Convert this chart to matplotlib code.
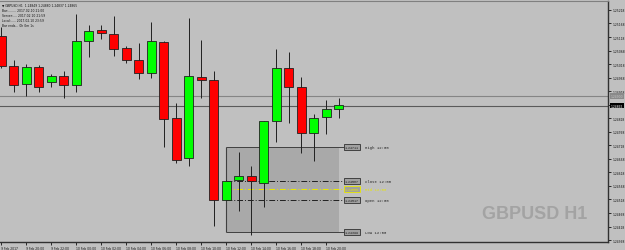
import matplotlib
matplotlib.use("Agg")
import matplotlib.pyplot as plt
from matplotlib.patches import Rectangle
from matplotlib.transforms import blended_transform_factory

# ---------------------------------------------------------------- dati
# candele H1 GBPUSD, dalle 18:00 del 9 Feb alle 21:00 del 10 Feb 2017
ore = ["18:00", "19:00", "20:00", "21:00", "22:00", "23:00",
       "00:00", "01:00", "02:00", "03:00", "04:00", "05:00", "06:00", "07:00",
       "08:00", "09:00", "10:00", "11:00", "12:00", "13:00", "14:00", "15:00",
       "16:00", "17:00", "18:00", "19:00", "20:00", "21:00"]
apertura = [1.25123, 1.25010, 1.24943, 1.25006, 1.24951, 1.24973, 1.24940,
            1.25103, 1.25144, 1.25128, 1.25076, 1.25032, 1.24984, 1.25100,
            1.24818, 1.24670, 1.24972, 1.24959, 1.24517, 1.24591, 1.24603,
            1.24580, 1.24807, 1.25004, 1.24932, 1.24762, 1.24821, 1.24852]
massimo = [1.25154, 1.25033, 1.25018, 1.25015, 1.24981, 1.24994, 1.25203,
           1.25163, 1.25163, 1.25195, 1.25084, 1.25096, 1.25175, 1.25105,
           1.24874, 1.25187, 1.25107, 1.24994, 1.24589, 1.24692, 1.24643,
           1.24807, 1.25074, 1.25062, 1.24969, 1.24834, 1.24885, 1.24893]
minimo = [1.25002, 1.24914, 1.24901, 1.24914, 1.24932, 1.24892, 1.24914,
          1.25046, 1.25111, 1.25047, 1.25021, 1.24963, 1.24967, 1.24713,
          1.24651, 1.24643, 1.24892, 1.24421, 1.24515, 1.24474, 1.24388,
          1.24490, 1.24731, 1.24799, 1.24691, 1.24659, 1.24760, 1.24820]
chiusura = [1.25012, 1.24941, 1.25007, 1.24932, 1.24973, 1.24942, 1.25105,
            1.25142, 1.25132, 1.25075, 1.25032, 1.24985, 1.25102, 1.24816,
            1.24665, 1.24973, 1.24959, 1.24515, 1.24587, 1.24605, 1.24585,
            1.24807, 1.25004, 1.24935, 1.24763, 1.24819, 1.24853, 1.24867]

etichette_x = ["9 Feb 2017", "9 Feb 20:00", "9 Feb 22:00", "10 Feb 00:00",
               "10 Feb 02:00", "10 Feb 04:00", "10 Feb 06:00", "10 Feb 08:00",
               "10 Feb 10:00", "10 Feb 12:00", "10 Feb 14:00", "10 Feb 16:00",
               "10 Feb 18:00", "10 Feb 20:00"]
tick_prezzi = [1.25218, 1.25168, 1.25118, 1.25068, 1.25018, 1.24968, 1.24918,
               1.24868, 1.24818, 1.24768, 1.24718, 1.24668, 1.24618, 1.24568,
               1.24518, 1.24468, 1.24418, 1.24368]

# livelli del riquadro 12:00
livelli_nomi = ["High 12:00", "Close 12:00", "Mid 12:00", "Open 12:00", "Low 12:00"]
livelli_prezzi = [1.24711, 1.24587, 1.24555, 1.24517, 1.24399]

bid = 1.24865
ask = 1.24900
intestazione = ["\u25bc GBPUSD,H1  1.24849 1.24880 1.24837 1.24865",
                "Bar:........ 2017.02.10 21:00",
                "Server:.... 2017.02.10 21:59",
                "Local:..... 2017.02.10 23:59",
                "Bar ends... 0h 0m 1s"]

SFONDO = "#c0c0c0"
RIALZO = "#00ff00"
RIBASSO = "#ff0000"
FS = 2.2

fig = plt.figure(figsize=(6.25, 2.51), dpi=100, facecolor=SFONDO)
ax = fig.add_axes([0, 8 / 251, 608 / 625, 241 / 251])
ax.set_facecolor(SFONDO)

n = len(apertura)
xs = list(range(n))
ax.set_xlim(-0.104, 48.54)
ax.set_ylim(1.24361, 1.25251)

# riquadro 12:00 -> 21:00
i0 = ore.index("12:00", 10)
alto, basso = livelli_prezzi[0], livelli_prezzi[-1]
ax.add_patch(Rectangle((i0, basso), (n - 1) - i0, alto - basso,
                       facecolor="#a9a9a9", edgecolor="none", zorder=1))
ax.vlines(i0, basso, alto, color="#404040", lw=0.8, zorder=1.5)
fine_linee = 27.42
stili = ["-", (0, (6, 2, 1, 2)), (0, (6, 2, 1, 2)), (0, (6, 2, 1, 2)), "-"]
colori = ["#404040", "#202020", "#e8e800", "#202020", "#404040"]
for nome, prezzo, st, col in zip(livelli_nomi, livelli_prezzi, stili, colori):
    ax.hlines(prezzo, i0, fine_linee, color=col, lw=0.7, linestyle=st, zorder=1.6)
    mid = nome.startswith("Mid")
    ax.text(fine_linee + 0.08, prezzo, f"{prezzo:.5f}", fontsize=2.4, va="center",
            ha="left", family="Liberation Mono", color=col if mid else "#202020",
            bbox=dict(boxstyle="square,pad=0.3", fc="#a0a0a0",
                      ec="#e8e800" if mid else "#303030", lw=0.6), zorder=4)
    ax.text(29.1, prezzo, nome, fontsize=2.8, va="center", ha="left",
            family="Liberation Mono", color=col if mid else "#202020", zorder=4)

# linee bid / ask
ax.axhline(ask, color="#858585", lw=0.8, zorder=1.2)
ax.axhline(bid, color="#5a5a5a", lw=0.8, zorder=1.2)

# candele
ax.vlines(xs, minimo, massimo, color="#202020", lw=0.7, zorder=2)
basi = [min(o, c) for o, c in zip(apertura, chiusura)]
altezze = [abs(c - o) for o, c in zip(apertura, chiusura)]
colori_c = [RIALZO if c >= o else RIBASSO for o, c in zip(apertura, chiusura)]
ax.bar(xs, altezze, bottom=basi, width=0.75, color=colori_c,
       edgecolor="#202020", linewidth=0.6, zorder=3)

# watermark
ax.text(46.9, 1.24466, "GBPUSD H1", ha="right", va="center", fontsize=13,
        fontweight="bold", family="Liberation Sans",
        color="#a3a3a3", zorder=0.5)

# intestazione
for k, riga in enumerate(intestazione):
    ax.text(0.004, 0.992 - k * 0.0205, riga, transform=ax.transAxes, fontsize=FS,
            va="top", ha="left", color="#101010", zorder=5)

# assi
ax.spines["left"].set_visible(False)
ax.spines["top"].set_color("#808080")
ax.spines["right"].set_color("#303030")
ax.spines["bottom"].set_color("#303030")
ax.spines["right"].set_linewidth(1.0)
ax.spines["bottom"].set_linewidth(1.0)

# l'etichetta vicina al bid e' coperta dal riquadro del prezzo
ax.yaxis.tick_right()
ax.set_yticks(tick_prezzi)
ax.set_yticklabels(["" if abs(p - bid) < 0.0001 else f"{p:.5f}" for p in tick_prezzi])
ax.tick_params(axis="y", length=2, width=0.6, pad=1.5, labelsize=FS, colors="#101010")

ax.set_xticks(list(range(0, n, 2)))
ax.set_xticklabels(etichette_x, ha="left")
ax.tick_params(axis="x", length=2, width=0.6, pad=1, labelsize=FS, colors="#101010")

# etichette prezzo sull'asse destro
tr = blended_transform_factory(ax.transAxes, ax.transData)
ax.text(1.004, ask, f"{ask:.5f}", transform=tr, fontsize=FS, va="center", ha="left",
        color="#c8c8c8", bbox=dict(boxstyle="square,pad=0.3", fc="#8a8a8a", ec="none"),
        zorder=6, clip_on=False)
ax.text(1.004, bid, f"{bid:.5f}", transform=tr, fontsize=FS, va="center", ha="left",
        color="white", bbox=dict(boxstyle="square,pad=0.3", fc="black", ec="none"),
        zorder=6, clip_on=False)

fig.savefig("out.png", dpi=100, facecolor=SFONDO)
